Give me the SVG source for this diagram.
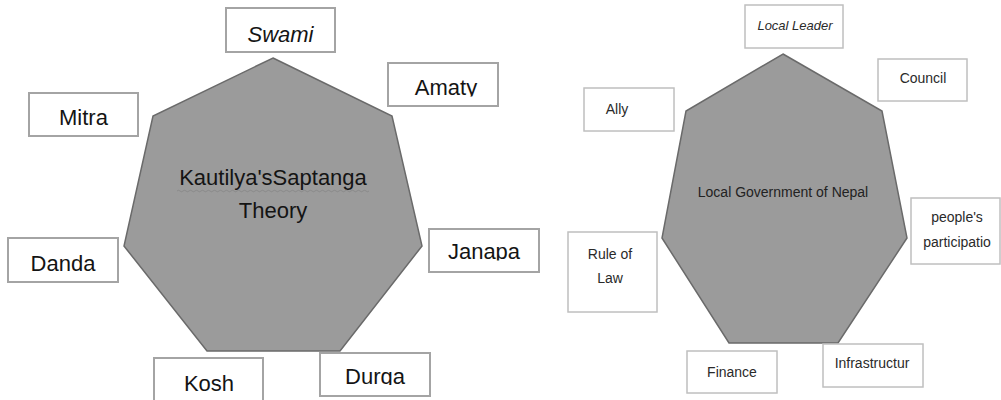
<svg xmlns="http://www.w3.org/2000/svg" width="1001" height="400" viewBox="0 0 1001 400">
<style>
.hept{fill:#9b9b9b;stroke:#6a6a6a;stroke-width:1.5}
.boxL{fill:#fff;stroke:#a4a4a4;stroke-width:2}
.boxR{fill:#fff;stroke:#bfbfbf;stroke-width:1.5}
.tL{font-family:"Liberation Sans",Arial,sans-serif;font-size:22px;fill:#141414;text-anchor:middle}
.tR{font-family:"Liberation Sans",Arial,sans-serif;font-size:14px;fill:#2a2a2a;text-anchor:middle}
.it{font-style:italic}
</style>
<defs>
<clipPath id="cAmaty"><rect x="388" y="63" width="110" height="33.5"/></clipPath>
<clipPath id="cJanapa"><rect x="429" y="229" width="110" height="31.5"/></clipPath>
<clipPath id="cDurga"><rect x="320" y="353" width="110" height="32"/></clipPath>
</defs>
<rect width="1001" height="400" fill="#fff"/>
<g id="connectors"/>

<g id="saptanga">
<polygon class="hept" points="273,58 392,116 422,246 340,351 207,351 124,246 153,116"/>
<text class="tL" x="273" y="185">Kautilya'sSaptanga</text>
<path d="M177,191 q1.5,-1.5 3,0 t3,0 t3,0 t3,0 t3,0 t3,0 t3,0 t3,0 t3,0 t3,0 t3,0 t3,0 t3,0 t3,0 t3,0 t3,0 t3,0 t3,0 t3,0 t3,0 t3,0 t3,0 t3,0 t3,0 t3,0 t3,0 t3,0 t3,0 t3,0 t3,0 t3,0 t3,0 t3,0 t3,0 t3,0 t3,0 t3,0 t3,0 t3,0 t3,0 t3,0 t3,0 t3,0 t3,0 t3,0 t3,0 t3,0 t3,0 t3,0 t3,0 t3,0 t3,0 t3,0 t3,0 t3,0 t3,0 t3,0 t3,0 t3,0 t3,0 t3,0 t3,0 t3,0 t3,0" fill="none" stroke="#858585" stroke-width="0.8"/>
<text class="tL" x="273" y="218">Theory</text>
</g>

<g id="swami">
<rect class="boxL" x="226" y="8" width="109" height="44"/>
<text class="tL it" x="280.5" y="42">Swami</text>
</g>
<g id="amaty">
<rect class="boxL" x="388" y="63" width="110" height="43"/>
<text class="tL" x="446" y="95" clip-path="url(#cAmaty)">Amaty</text>
</g>
<g id="mitra">
<rect class="boxL" x="29" y="93" width="109" height="43"/>
<text class="tL" x="83.5" y="125">Mitra</text>
</g>
<g id="danda">
<rect class="boxL" x="8" y="238" width="110" height="44"/>
<text class="tL" x="63" y="271">Danda</text>
</g>
<g id="janapa">
<rect class="boxL" x="429" y="229" width="110" height="43"/>
<text class="tL" x="484" y="259" clip-path="url(#cJanapa)">Janapa</text>
</g>
<g id="kosh">
<rect class="boxL" x="154" y="358" width="109" height="50"/>
<text class="tL" x="209" y="391">Kosh</text>
</g>
<g id="durga">
<rect class="boxL" x="320" y="353" width="110" height="43"/>
<text class="tL" x="375" y="384" clip-path="url(#cDurga)">Durga</text>
</g>

<g id="local-government">
<polygon class="hept" points="783,54 882,111 907,238 838,343 729,343 662,238 686,111"/>
<text class="tR" x="783" y="197" style="fill:#222">Local Government of Nepal</text>
</g>

<g id="local-leader">
<rect class="boxR" x="745" y="5" width="98" height="43"/>
<text class="tR it" x="795" y="30" style="font-size:13px">Local Leader</text>
</g>
<g id="council">
<rect class="boxR" x="878" y="59" width="89" height="42"/>
<text class="tR" x="923" y="83">Council</text>
</g>
<g id="ally">
<rect class="boxR" x="584" y="88" width="90" height="43"/>
<text class="tR" x="617" y="114">Ally</text>
</g>
<g id="peoples-participation">
<rect class="boxR" x="911" y="198" width="89" height="66"/>
<text class="tR" x="957" y="222">people's</text>
<text class="tR" x="957" y="247">participatio</text>
</g>
<g id="rule-of-law">
<rect class="boxR" x="568" y="232" width="89" height="80"/>
<text class="tR" x="610" y="259">Rule of</text>
<text class="tR" x="610" y="283">Law</text>
</g>
<g id="finance">
<rect class="boxR" x="687" y="351" width="90" height="42"/>
<text class="tR" x="732" y="377">Finance</text>
</g>
<g id="infrastructure">
<rect class="boxR" x="823" y="344" width="100" height="43"/>
<text class="tR" x="872" y="368">Infrastructur</text>
</g>
</svg>
